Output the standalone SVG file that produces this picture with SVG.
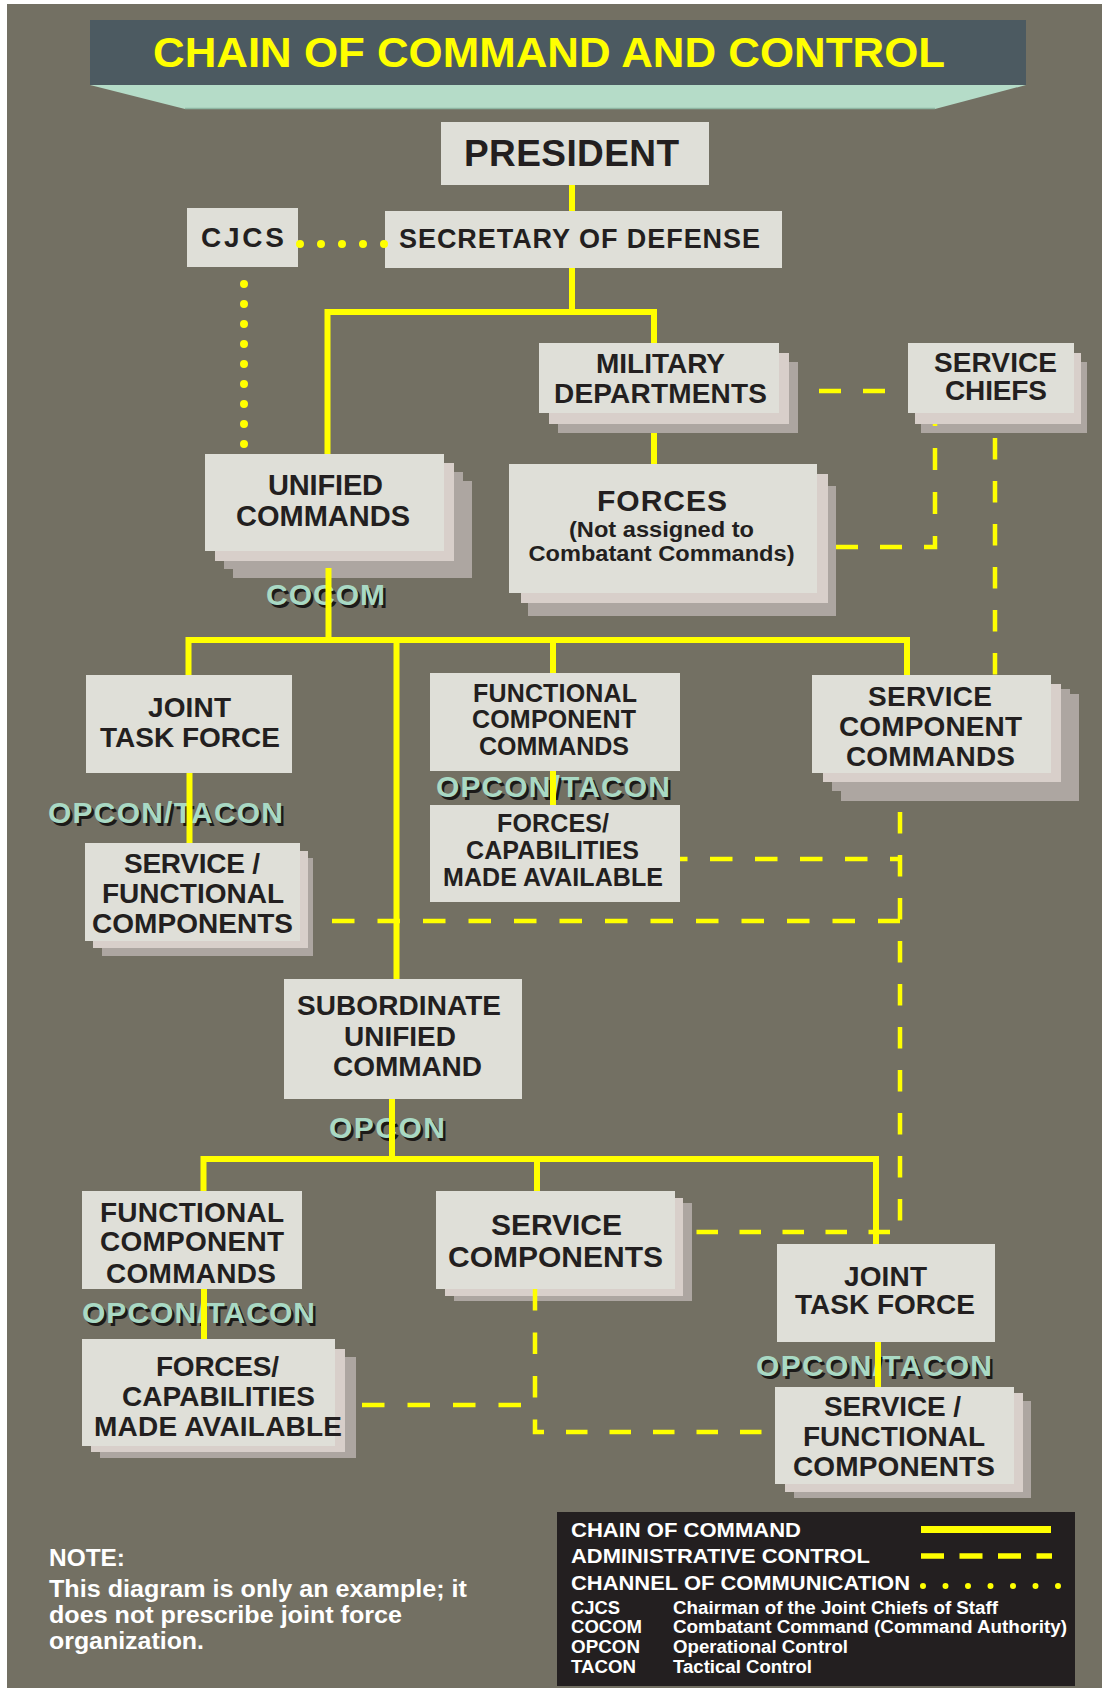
<svg xmlns="http://www.w3.org/2000/svg" width="1102" height="1688" viewBox="0 0 1102 1688">
<style>
.t{font-family:"Liberation Sans",Arial,Helvetica,sans-serif;font-weight:bold;fill:#231f20;text-anchor:middle}
.box{fill:#dfdfd8}
.l2{fill:#d8cfca}
.l3{fill:#ada6a1}
.lbl{font-family:"Liberation Sans",Arial,Helvetica,sans-serif;font-weight:bold;font-size:30px;text-anchor:middle}
.lf{fill:#a9d9c4}
.ls{fill:#1c1a18}
.solid{fill:none;stroke:#ffff00;stroke-width:6}
.dash{fill:none;stroke:#ffff00;stroke-width:4.5}
.dot{fill:none;stroke:#ffff00;stroke-width:8;stroke-linecap:round}
.w{font-family:"Liberation Sans",Arial,Helvetica,sans-serif;font-weight:bold;fill:#ffffff}
</style>
<rect x="0" y="0" width="1102" height="1688" fill="#ffffff"/>
<rect x="7" y="4" width="1095" height="1684" fill="#737063"/>

<g id="title">
<rect x="90" y="20" width="936" height="65" fill="#4c5a61"/>
<polygon points="90,85 1026,85 935,109 185,109" fill="#b5dcc8"/>
<line x1="185" y1="108.5" x2="935" y2="108.5" stroke="#8fb7a3" stroke-width="1.5"/>
<text x="153" y="67" font-family="'Liberation Sans',Arial,sans-serif" font-weight="bold" font-size="42" fill="#ffff00" textLength="792" lengthAdjust="spacingAndGlyphs">CHAIN OF COMMAND AND CONTROL</text>
</g>

<g id="n-president">
<rect class="box" x="441" y="122" width="268" height="63"/>
<text class="t" x="571.5" y="166" font-size="37" textLength="215">PRESIDENT</text>
</g>
<g id="n-secdef">
<rect class="box" x="385" y="211" width="397" height="57"/>
<text class="t" x="579.5" y="248" font-size="27" textLength="361">SECRETARY OF DEFENSE</text>
</g>
<g id="n-cjcs">
<rect class="box" x="187" y="208" width="111" height="59"/>
<text class="t" x="242.5" y="247" font-size="28" textLength="83">CJCS</text>
</g>
<g id="n-mildept">
<rect class="l3" x="558" y="362" width="240" height="71"/>
<rect class="l2" x="549" y="353" width="240" height="71"/>
<rect class="box" x="539" y="343" width="240" height="70"/>
<text class="t" x="660.5" y="373" font-size="28" textLength="129">MILITARY</text>
<text class="t" x="660.5" y="403" font-size="28" textLength="213">DEPARTMENTS</text>
</g>
<g id="n-servicechiefs">
<rect class="l3" x="921" y="362" width="166" height="71"/>
<rect class="l2" x="915" y="353" width="166" height="71"/>
<rect class="box" x="908" y="343" width="166" height="70"/>
<text class="t" x="995.5" y="372" font-size="28" textLength="123">SERVICE</text>
<text class="t" x="996" y="400" font-size="28" textLength="102">CHIEFS</text>
</g>
<g id="n-unified">
<rect class="l3" x="233" y="481" width="239" height="97"/>
<rect class="l3" x="224" y="472" width="239" height="97"/>
<rect class="l2" x="215" y="463" width="239" height="98"/>
<rect class="box" x="205" y="454" width="239" height="97"/>
<text class="t" x="325.5" y="495" font-size="29" textLength="115">UNIFIED</text>
<text class="t" x="323" y="526" font-size="29" textLength="174">COMMANDS</text>
</g>
<g id="n-forces">
<rect class="l3" x="528" y="486" width="308" height="130"/>
<rect class="l2" x="521" y="474" width="307" height="129"/>
<rect class="box" x="509" y="464" width="308" height="129"/>
<text class="t" x="662" y="511" font-size="30" textLength="130">FORCES</text>
<text class="t" x="661.5" y="537" font-size="22" textLength="185" lengthAdjust="spacingAndGlyphs">(Not assigned to</text>
<text class="t" x="661.5" y="561" font-size="22" textLength="266" lengthAdjust="spacingAndGlyphs">Combatant Commands)</text>
</g>
<g id="n-jtf1">
<rect class="box" x="86" y="675" width="206" height="98"/>
<text class="t" x="189.5" y="717" font-size="28" textLength="83">JOINT</text>
<text class="t" x="190" y="747" font-size="28" textLength="180">TASK FORCE</text>
</g>
<g id="n-fcc1">
<rect class="box" x="430" y="673" width="250" height="98"/>
<text class="t" x="555" y="702" font-size="25" textLength="164">FUNCTIONAL</text>
<text class="t" x="554" y="728" font-size="25" textLength="164">COMPONENT</text>
<text class="t" x="554" y="755" font-size="25" textLength="150">COMMANDS</text>
</g>
<g id="n-fca1">
<rect class="box" x="430" y="805" width="250" height="97"/>
<text class="t" x="553" y="832" font-size="25" textLength="112">FORCES/</text>
<text class="t" x="552.5" y="859" font-size="25" textLength="173">CAPABILITIES</text>
<text class="t" x="553" y="886" font-size="25" textLength="220">MADE AVAILABLE</text>
</g>
<g id="n-scc">
<rect class="l3" x="841" y="694" width="238" height="107"/>
<rect class="l3" x="832" y="689" width="238" height="102"/>
<rect class="l2" x="823" y="684" width="238" height="98"/>
<rect class="box" x="812" y="675" width="239" height="98"/>
<text class="t" x="930" y="706" font-size="28" textLength="124">SERVICE</text>
<text class="t" x="930.5" y="736" font-size="28" textLength="183">COMPONENT</text>
<text class="t" x="930.5" y="766" font-size="28" textLength="169">COMMANDS</text>
</g>
<g id="n-sfc1">
<rect class="l3" x="102" y="858" width="211" height="98"/>
<rect class="l2" x="93" y="851" width="215" height="97"/>
<rect class="box" x="85" y="843" width="215" height="98"/>
<text class="t" x="192" y="873" font-size="28" textLength="136">SERVICE /</text>
<text class="t" x="193" y="903" font-size="28" textLength="182">FUNCTIONAL</text>
<text class="t" x="192.5" y="933" font-size="28" textLength="201">COMPONENTS</text>
</g>
<g id="n-suc">
<rect class="box" x="284" y="979" width="238" height="120"/>
<text class="t" x="399" y="1015" font-size="28" textLength="204">SUBORDINATE</text>
<text class="t" x="400" y="1046" font-size="28" textLength="112">UNIFIED</text>
<text class="t" x="407.5" y="1076" font-size="28" textLength="149">COMMAND</text>
</g>
<g id="n-fcc2">
<rect class="box" x="82" y="1191" width="220" height="98"/>
<text class="t" x="192" y="1222" font-size="28" textLength="184">FUNCTIONAL</text>
<text class="t" x="192" y="1251" font-size="28" textLength="184">COMPONENT</text>
<text class="t" x="191" y="1283" font-size="28" textLength="170">COMMANDS</text>
</g>
<g id="n-sc2">
<rect class="l3" x="454" y="1203" width="238" height="98"/>
<rect class="l2" x="445" y="1198" width="238" height="98"/>
<rect class="box" x="436" y="1191" width="239" height="98"/>
<text class="t" x="556.5" y="1235" font-size="30" textLength="131">SERVICE</text>
<text class="t" x="555.5" y="1267" font-size="30" textLength="215">COMPONENTS</text>
</g>
<g id="n-jtf2">
<rect class="box" x="777" y="1244" width="218" height="98"/>
<text class="t" x="885.5" y="1286" font-size="28" textLength="83">JOINT</text>
<text class="t" x="885" y="1314" font-size="28" textLength="180">TASK FORCE</text>
</g>
<g id="n-fca2">
<rect class="l3" x="100" y="1357" width="256" height="101"/>
<rect class="l2" x="91" y="1349" width="254" height="103"/>
<rect class="box" x="82" y="1339" width="253" height="107"/>
<text class="t" x="217.5" y="1376" font-size="28" textLength="123">FORCES/</text>
<text class="t" x="218.5" y="1406" font-size="28" textLength="193">CAPABILITIES</text>
<text class="t" x="218" y="1436" font-size="28" textLength="248">MADE AVAILABLE</text>
</g>
<g id="n-sfc2">
<rect class="l3" x="794" y="1401" width="237" height="97"/>
<rect class="l2" x="785" y="1393" width="238" height="99"/>
<rect class="box" x="775" y="1387" width="239" height="97"/>
<text class="t" x="892.5" y="1416" font-size="28" textLength="137">SERVICE /</text>
<text class="t" x="894" y="1446" font-size="28" textLength="182">FUNCTIONAL</text>
<text class="t" x="894" y="1476" font-size="28" textLength="202">COMPONENTS</text>
</g>

<g id="labels">
<text class="lbl ls" x="328" y="607.5" textLength="119">COCOM</text>
<text class="lbl lf" x="325.5" y="605" textLength="119">COCOM</text>
<text class="lbl ls" x="168" y="825.5" textLength="235">OPCON/TACON</text>
<text class="lbl lf" x="165.5" y="823" textLength="235">OPCON/TACON</text>
<text class="lbl ls" x="555.5" y="799.5" textLength="234">OPCON/TACON</text>
<text class="lbl lf" x="553" y="797" textLength="234">OPCON/TACON</text>
<text class="lbl ls" x="389.5" y="1140.5" textLength="116">OPCON</text>
<text class="lbl lf" x="387" y="1138" textLength="116">OPCON</text>
<text class="lbl ls" x="201" y="1325.5" textLength="233">OPCON/TACON</text>
<text class="lbl lf" x="198.5" y="1323" textLength="233">OPCON/TACON</text>
<text class="lbl ls" x="876.5" y="1378.5" textLength="236">OPCON/TACON</text>
<text class="lbl lf" x="874" y="1376" textLength="236">OPCON/TACON</text>
</g>

<g id="connectors">
<path class="solid" d="M572,185V211"/>
<path class="solid" d="M572,268V312"/>
<path class="solid" d="M327.5,454V312H654V343"/>
<path class="solid" d="M654,433V464"/>
<path class="solid" d="M328.5,568V640"/>
<path class="solid" d="M188.5,675V640H907V675"/>
<path class="solid" d="M396.5,640V979"/>
<path class="solid" d="M553,640V673"/>
<path class="solid" d="M189.5,773V843"/>
<path class="solid" d="M553,771V805"/>
<path class="solid" d="M392,1099V1159"/>
<path class="solid" d="M203.5,1191V1159H876V1244"/>
<path class="solid" d="M537,1159V1191"/>
<path class="solid" d="M204,1289V1339"/>
<path class="solid" d="M878,1342V1387"/>
<path class="dash" d="M819,391H886" stroke-dasharray="22 22"/>
<path class="dash" d="M836,547H935V424" stroke-dasharray="22 22"/>
<path class="dash" d="M995,438V675" stroke-dasharray="21.5 21.5"/>
<path class="dash" d="M900,812V1232H685" stroke-dasharray="21.5 21.5"/>
<path class="dash" d="M680,859H900" stroke-dasharray="22.5 22.5" stroke-dashoffset="15"/>
<path class="dash" d="M332,921H900" stroke-dasharray="22.5 23"/>
<path class="dash" d="M535,1289V1432H770" stroke-dasharray="21.5 22"/>
<path class="dash" d="M362,1405H535" stroke-dasharray="22.5 23"/>
<path class="dot" d="M300,244H386" stroke-dasharray="0 21"/>
<path class="dot" d="M244,284V446" stroke-dasharray="0 20"/>
</g>

<g id="note">
<text class="w" x="49" y="1566" font-size="23" textLength="76" lengthAdjust="spacingAndGlyphs">NOTE:</text>
<text class="w" x="49" y="1597" font-size="23" textLength="418" lengthAdjust="spacingAndGlyphs">This diagram is only an example; it</text>
<text class="w" x="49" y="1623" font-size="23" textLength="353" lengthAdjust="spacingAndGlyphs">does not prescribe joint force</text>
<text class="w" x="49" y="1649" font-size="23" textLength="155" lengthAdjust="spacingAndGlyphs">organization.</text>
</g>

<g id="legend">
<rect x="557" y="1512" width="518" height="174" fill="#231f20"/>
<text class="w" x="571" y="1537" font-size="21" textLength="230" lengthAdjust="spacingAndGlyphs">CHAIN OF COMMAND</text>
<text class="w" x="571" y="1563" font-size="21" textLength="299" lengthAdjust="spacingAndGlyphs">ADMINISTRATIVE CONTROL</text>
<text class="w" x="571" y="1590" font-size="21" textLength="339" lengthAdjust="spacingAndGlyphs">CHANNEL OF COMMUNICATION</text>
<path d="M921,1529.5H1051" stroke="#ffff00" stroke-width="7" fill="none"/>
<path d="M921,1556H1052" stroke="#ffff00" stroke-width="5.5" fill="none" stroke-dasharray="23 15.5"/>
<path d="M923,1586H1060" stroke="#ffff00" stroke-width="6" fill="none" stroke-linecap="round" stroke-dasharray="0 22.5"/>
<text class="w" x="571" y="1614" font-size="18" textLength="49" lengthAdjust="spacingAndGlyphs">CJCS</text>
<text class="w" x="673" y="1614" font-size="18" textLength="325" lengthAdjust="spacingAndGlyphs">Chairman of the Joint Chiefs of Staff</text>
<text class="w" x="571" y="1633" font-size="18" textLength="71" lengthAdjust="spacingAndGlyphs">COCOM</text>
<text class="w" x="673" y="1633" font-size="18" textLength="394" lengthAdjust="spacingAndGlyphs">Combatant Command (Command Authority)</text>
<text class="w" x="571" y="1653" font-size="18" textLength="69" lengthAdjust="spacingAndGlyphs">OPCON</text>
<text class="w" x="673" y="1653" font-size="18" textLength="175" lengthAdjust="spacingAndGlyphs">Operational Control</text>
<text class="w" x="571" y="1673" font-size="18" textLength="65" lengthAdjust="spacingAndGlyphs">TACON</text>
<text class="w" x="673" y="1673" font-size="18" textLength="139" lengthAdjust="spacingAndGlyphs">Tactical Control</text>
</g>
</svg>
